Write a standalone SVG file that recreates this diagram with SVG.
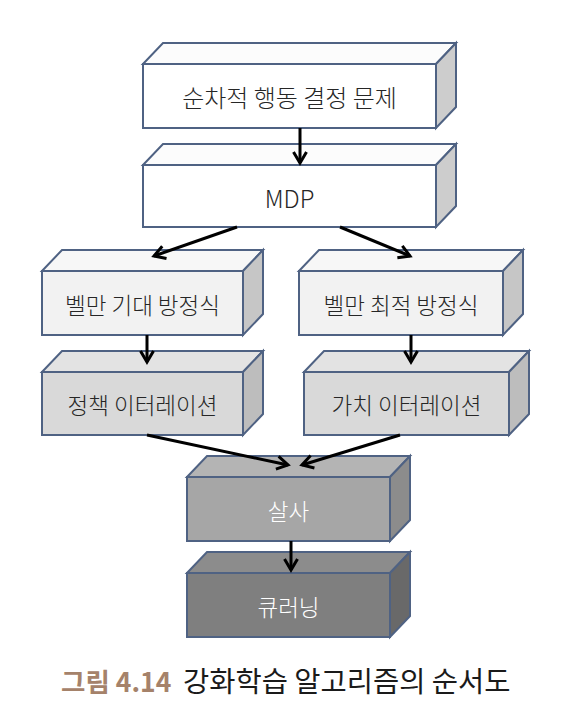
<svg xmlns="http://www.w3.org/2000/svg" width="568" height="723" viewBox="0 0 568 723">
<defs>
<style>
.edge{stroke:#4f6283;stroke-width:2;stroke-linejoin:miter}
.lbl{font-family:"Noto Sans CJK KR","Noto Sans",sans-serif;text-anchor:middle;dominant-baseline:central;font-weight:300}
.big{font-size:24px}
.sm{font-size:22.5px}
.dark{fill:#262626}
.light{fill:#ffffff}
.conn{stroke:#000;stroke-width:3;fill:none}
.cap{font-family:"Noto Sans CJK KR","Noto Sans",sans-serif;font-size:28.5px}
</style>
<marker id="ah" markerUnits="userSpaceOnUse" markerWidth="18" markerHeight="18" viewBox="0 0 18 18" refX="15" refY="9" orient="auto">
<path d="M4,2.5 L15,9 L4,15.5" fill="none" stroke="#000" stroke-width="3"/>
</marker>
</defs>
<rect width="568" height="723" fill="#ffffff"/>

<g id="n1">
<polygon class="edge" points="143,64 163,43 456,43 436,64" fill="#fcfcfc"/>
<polygon class="edge" points="436,64 456,43 456,107 436,128" fill="#cdcdcd"/>
<rect class="edge" x="143" y="64" width="293" height="64" fill="#ffffff"/>
<text class="lbl big dark" x="289.5" y="96">순차적 행동 결정 문제</text>
</g>

<g id="n2">
<polygon class="edge" points="143,165 163,144 456,144 436,165" fill="#fcfcfc"/>
<polygon class="edge" points="436,165 456,144 456,206 436,227" fill="#cdcdcd"/>
<rect class="edge" x="143" y="165" width="293" height="62" fill="#ffffff"/>
<text class="lbl big dark" x="289.5" y="197">MDP</text>
</g>

<g id="n3">
<polygon class="edge" points="42,271 62,250 263,250 243,271" fill="#f7f7f7"/>
<polygon class="edge" points="243,271 263,250 263,314 243,335" fill="#c6c6c6"/>
<rect class="edge" x="42" y="271" width="201" height="64" fill="#f2f2f2"/>
<text class="lbl sm dark" x="142.5" y="304">벨만 기대 방정식</text>
</g>

<g id="n4">
<polygon class="edge" points="299,271 319,250 523,250 503,271" fill="#f7f7f7"/>
<polygon class="edge" points="503,271 523,250 523,314 503,335" fill="#c6c6c6"/>
<rect class="edge" x="299" y="271" width="204" height="64" fill="#f2f2f2"/>
<text class="lbl sm dark" x="401" y="304">벨만 최적 방정식</text>
</g>

<g id="n5">
<polygon class="edge" points="42,372 62,351 263,351 243,372" fill="#e3e3e3"/>
<polygon class="edge" points="243,372 263,351 263,414 243,435" fill="#bdbdbd"/>
<rect class="edge" x="42" y="372" width="201" height="63" fill="#d9d9d9"/>
<text class="lbl sm dark" x="142.5" y="404">정책 이터레이션</text>
</g>

<g id="n6">
<polygon class="edge" points="304,372 324,351 529,351 509,372" fill="#e3e3e3"/>
<polygon class="edge" points="509,372 529,351 529,414 509,435" fill="#bdbdbd"/>
<rect class="edge" x="304" y="372" width="205" height="63" fill="#d9d9d9"/>
<text class="lbl sm dark" x="406.5" y="404">가치 이터레이션</text>
</g>

<g id="n7">
<polygon class="edge" points="187,477 207,456 410,456 390,477" fill="#b4b4b4"/>
<polygon class="edge" points="390,477 410,456 410,520 390,541" fill="#8c8c8c"/>
<rect class="edge" x="187" y="477" width="203" height="64" fill="#a6a6a6"/>
<text class="lbl sm light" x="288.5" y="510">살사</text>
</g>

<g id="n8">
<polygon class="edge" points="187,573 207,552 410,552 390,573" fill="#8c8c8c"/>
<polygon class="edge" points="390,573 410,552 410,616 390,637" fill="#696969"/>
<rect class="edge" x="187" y="573" width="203" height="64" fill="#7f7f7f"/>
<text class="lbl sm light" x="288.5" y="606">큐러닝</text>
</g>

<g id="connectors">
<line class="conn" x1="300" y1="128" x2="300" y2="163" marker-end="url(#ah)"/>
<line class="conn" x1="237" y1="227" x2="154" y2="256" marker-end="url(#ah)"/>
<line class="conn" x1="340" y1="227" x2="410" y2="256" marker-end="url(#ah)"/>
<line class="conn" x1="147" y1="335" x2="147" y2="362" marker-end="url(#ah)"/>
<line class="conn" x1="411" y1="335" x2="411" y2="362" marker-end="url(#ah)"/>
<line class="conn" x1="147" y1="435" x2="288" y2="465" marker-end="url(#ah)"/>
<line class="conn" x1="400" y1="435" x2="302" y2="465" marker-end="url(#ah)"/>
<line class="conn" x1="291" y1="541" x2="291" y2="570" marker-end="url(#ah)"/>
</g>

<g id="caption">
<text class="cap" x="61" y="692" fill="#a5826a" font-weight="bold" font-size="26.5px" style="font-size:26.5px">그림 4.14</text>
<text class="cap" x="183" y="692" fill="#1a1a1a">강화학습 알고리즘의 순서도</text>
</g>
</svg>
